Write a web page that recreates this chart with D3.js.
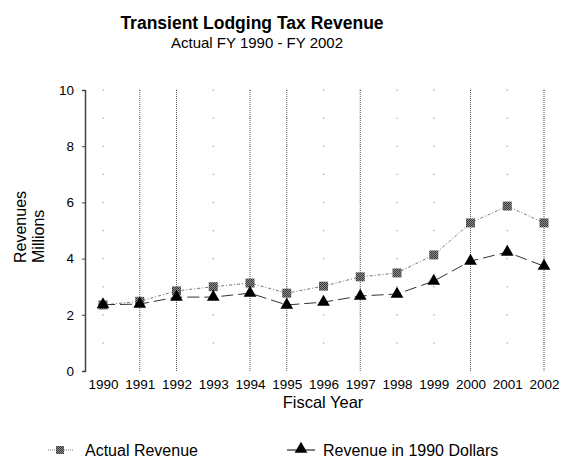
<!DOCTYPE html>
<html>
<head>
<meta charset="utf-8">
<script src="https://cdn.jsdelivr.net/npm/d3@7"></script>
<style>
  body { margin: 0; background: #fff; }
  text { font-family: "Liberation Sans", Arial, sans-serif; fill: #000; }
</style>
</head>
<body>
<div id="chart"></div>
<script>
// Chart data
const years = ['1990', '1991', '1992', '1993', '1994', '1995', '1996', '1997', '1998', '1999', '2000', '2001', '2002']
const actualRevenue = [2.35, 2.48, 2.85, 3.0, 3.13, 2.77, 3.02, 3.35, 3.49, 4.13, 5.27, 5.87, 5.27]
const revenue1990 = [2.36, 2.38, 2.63, 2.63, 2.77, 2.35, 2.45, 2.67, 2.74, 3.2, 3.91, 4.23, 3.73]
const yTicks = [0, 2, 4, 6, 8, 10]
const dottedYears = ['1991', '1992', '1994', '1995', '1997', '2000', '2002']

const width = 562, height = 462
const margin = {top: 90, right: 18, bottom: 91, left: 85}

const svg = d3.select('#chart').append('svg')
    .attr('width', width)
    .attr('height', height)

// hatched fill for the square markers
const defs = svg.append('defs')
const pat = defs.append('pattern')
    .attr('id', 'hatch')
    .attr('patternUnits', 'userSpaceOnUse')
    .attr('width', 2).attr('height', 2)
pat.append('rect').attr('width', 2).attr('height', 2).attr('fill', '#8a8a8a')
pat.append('rect').attr('width', 1).attr('height', 1).attr('fill', '#3a3a3a')
pat.append('rect').attr('x', 1).attr('y', 1).attr('width', 1).attr('height', 1).attr('fill', '#3a3a3a')

const x = d3.scalePoint()
    .domain(years)
    .range([103, 544])

const y = d3.scaleLinear()
    .domain([0, 10])
    .range([height - margin.bottom, margin.top])

// Titles
svg.append('text')
    .attr('x', 252).attr('y', 29)
    .attr('text-anchor', 'middle')
    .style('font-size', '17.5px').style('font-weight', 'bold')
    .text('Transient Lodging Tax Revenue')
svg.append('text')
    .attr('x', 257).attr('y', 48)
    .attr('text-anchor', 'middle')
    .style('font-size', '15px')
    .text('Actual FY 1990 - FY 2002')

// Grid dots at each year / integer value
const gridVals = d3.range(1, 11)
years.forEach(yr => {
    svg.append('g').selectAll('rect')
        .data(gridVals)
        .enter().append('rect')
        .attr('x', x(yr) - 0.5)
        .attr('y', d => y(d) - 0.5)
        .attr('width', 1.2).attr('height', 1.2)
        .attr('fill', '#999')
})

// Vertical dotted lines
svg.append('g').selectAll('line')
    .data(dottedYears)
    .enter().append('line')
    .attr('x1', d => x(d)).attr('x2', d => x(d))
    .attr('y1', y(10)).attr('y2', y(0))
    .attr('stroke', '#555')
    .attr('stroke-width', 1)
    .attr('stroke-dasharray', '1,1')

// Y axis
const yAxis = d3.axisLeft(y).tickValues(yTicks).tickSize(3).tickPadding(8)
const gy = svg.append('g')
    .attr('transform', 'translate(' + margin.left + ',0)')
    .call(yAxis)
gy.select('.domain').attr('stroke', '#444').attr('stroke-width', 1.5)
gy.selectAll('.tick line').attr('stroke', '#444')
gy.selectAll('text').style('font-size', '13.5px').attr('fill', '#000')

// X axis labels (no axis line)
const xAxis = d3.axisBottom(x).tickSize(0).tickPadding(8)
const gx = svg.append('g')
    .attr('transform', 'translate(0,' + y(0) + ')')
    .call(xAxis)
gx.select('.domain').remove()
gx.selectAll('text').style('font-size', '13.5px').attr('fill', '#000')

// Axis titles
svg.append('text')
    .attr('x', 323).attr('y', 408)
    .attr('text-anchor', 'middle')
    .style('font-size', '16.5px')
    .text('Fiscal Year')
svg.append('text')
    .attr('transform', 'translate(26,263) rotate(-90)')
    .style('font-size', '16px')
    .text('Revenues')
svg.append('text')
    .attr('transform', 'translate(44,263) rotate(-90)')
    .style('font-size', '16px')
    .text('Millions')

// Lines
const line = d3.line()
    .x((d, i) => x(years[i]))
    .y(d => y(d))

svg.append('path')
    .datum(actualRevenue)
    .attr('d', line)
    .attr('fill', 'none')
    .attr('stroke', '#777')
    .attr('stroke-width', 1)
    .attr('stroke-dasharray', '3,2,1,2')

svg.append('path')
    .datum(revenue1990)
    .attr('d', line)
    .attr('fill', 'none')
    .attr('stroke', '#333')
    .attr('stroke-width', 1)
    .attr('stroke-dasharray', '12,5')

// Markers
const sq = 9
svg.append('g').selectAll('rect')
    .data(actualRevenue)
    .enter().append('rect')
    .attr('x', (d, i) => x(years[i]) - sq / 2)
    .attr('y', d => y(d) - sq / 2)
    .attr('width', sq).attr('height', sq)
    .attr('fill', 'url(#hatch)')

const tri = d3.symbol().type(d3.symbolTriangle).size(70)
svg.append('g').selectAll('path')
    .data(revenue1990)
    .enter().append('path')
    .attr('d', tri)
    .attr('transform', (d, i) => 'translate(' + x(years[i]) + ',' + y(d) + ')')
    .attr('fill', '#000')

// Legend
const lg = svg.append('g')
lg.append('line')
    .attr('x1', 48).attr('x2', 73).attr('y1', 450).attr('y2', 450)
    .attr('stroke', '#777').attr('stroke-dasharray', '1,1')
lg.append('rect')
    .attr('x', 56).attr('y', 446).attr('width', 8).attr('height', 8)
    .attr('fill', 'url(#hatch)')
lg.append('text')
    .attr('x', 85).attr('y', 456)
    .style('font-size', '16px')
    .text('Actual Revenue')

lg.append('line')
    .attr('x1', 287).attr('x2', 315).attr('y1', 450).attr('y2', 450)
    .attr('stroke', '#000')
lg.append('path')
    .attr('d', tri)
    .attr('transform', 'translate(301,449)')
    .attr('fill', '#000')
lg.append('text')
    .attr('x', 323).attr('y', 456)
    .style('font-size', '16px')
    .text('Revenue in 1990 Dollars')
</script>
</body>
</html>
